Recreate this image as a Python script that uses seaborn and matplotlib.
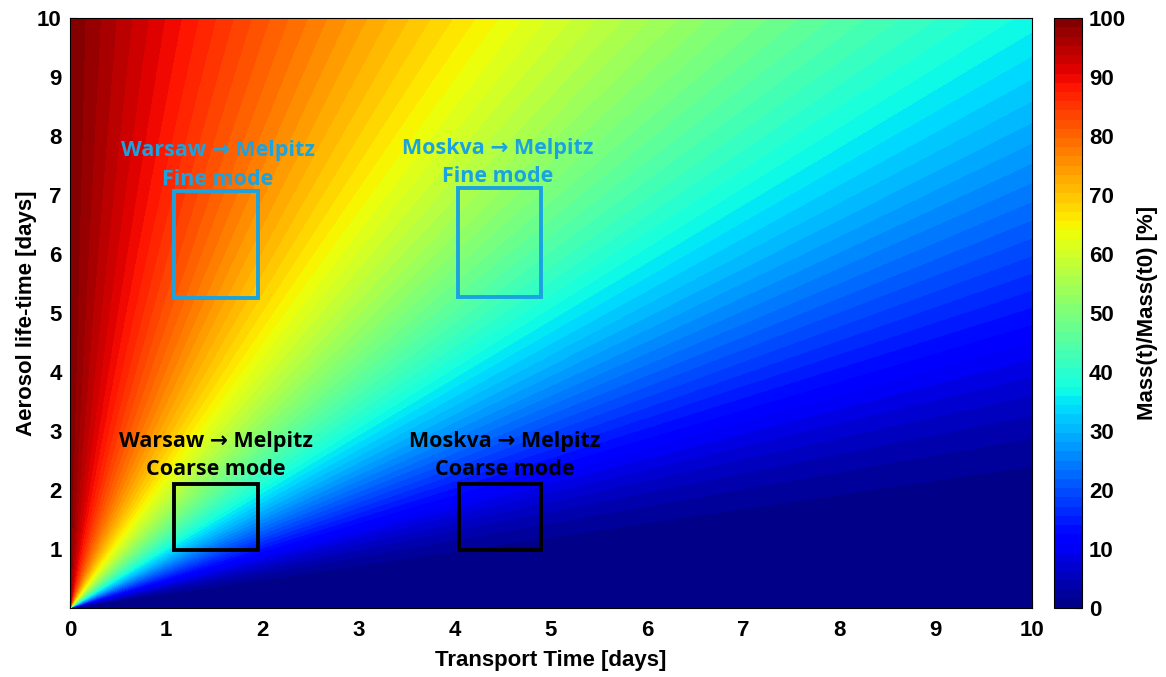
"""Remaining aerosol mass fraction vs transport time and aerosol life-time."""

import matplotlib
matplotlib.use("Agg")
import matplotlib.pyplot as plt
import numpy as np
import seaborn as sns
from matplotlib.patches import Rectangle

# Grid axes of the model surface (days)
transport_days = np.linspace(0.0, 10.0, 501)
lifetime_days = np.linspace(0.005, 10.0, 501)

# Source regions: (label, mode, x0, x1, y0, y1)
box_labels = ["Warsaw", "Moskva", "Warsaw", "Moskva"]
box_modes = ["Fine mode", "Fine mode", "Coarse mode", "Coarse mode"]
box_x0 = [1.08, 4.03, 1.08, 4.04]
box_x1 = [1.95, 4.90, 1.95, 4.90]
box_y0 = [5.25, 5.28, 0.98, 0.98]
box_y1 = [7.07, 7.12, 2.10, 2.10]
box_colors = ["#1aa3e0", "#1aa3e0", "black", "black"]
text_x = [1.54, 4.45, 1.52, 4.52]
text_y1 = [7.75, 7.80, 2.82, 2.82]
text_y2 = [7.26, 7.31, 2.34, 2.34]

sns.set_style("ticks")
plt.rcParams["font.family"] = ["Liberation Sans", "DejaVu Sans"]
plt.rcParams["font.weight"] = "bold"
plt.rcParams["text.color"] = "black"
plt.rcParams["axes.labelcolor"] = "black"
plt.rcParams["xtick.color"] = "black"
plt.rcParams["ytick.color"] = "black"

T, TAU = np.meshgrid(transport_days, lifetime_days)
mass_pct = 100.0 * np.exp(-T / TAU)

fig = plt.figure(figsize=(11.66, 6.77), dpi=100)
ax = fig.add_axes([0.060, 0.102, 0.825, 0.871])
cax = fig.add_axes([0.904, 0.102, 0.024, 0.871])

levels = np.linspace(0, 100, 65)
cf = ax.contourf(T, TAU, mass_pct, levels=levels, cmap="jet", vmin=0, vmax=100)

for lab, mode, x0, x1, y0, y1, c, tx, ty1, ty2 in zip(
        box_labels, box_modes, box_x0, box_x1, box_y0, box_y1,
        box_colors, text_x, text_y1, text_y2):
    ax.add_patch(Rectangle((x0, y0), x1 - x0, y1 - y0, fill=False,
                           edgecolor=c, linewidth=2.8, zorder=3))
    ax.text(tx, ty1, f"{lab} \u2192 Melpitz", color=c, ha="center", va="center",
            fontsize=15.5, fontweight="bold", family=["Open Sans", "DejaVu Sans"])
    ax.text(tx, ty2, mode, color=c, ha="center", va="center",
            fontsize=15.5, fontweight="bold", family=["Open Sans", "DejaVu Sans"])

ax.set_xlim(0, 10)
ax.set_ylim(0, 10)
ax.set_xticks(range(0, 11))
ax.set_yticks(range(1, 11))
ax.tick_params(labelsize=16, direction="in", length=5)
ax.tick_params(axis="x", pad=9)
ax.tick_params(axis="y", pad=6)
ax.set_xlabel("Transport Time [days]", fontsize=16, fontweight="bold", labelpad=6)
ax.set_ylabel("Aerosol life-time [days]", fontsize=16, fontweight="bold", labelpad=0)
for s in ax.spines.values():
    s.set_visible(True)
    s.set_linewidth(0.8)
    s.set_color("black")

cb = fig.colorbar(cf, cax=cax, ticks=range(0, 101, 10))
cb.ax.tick_params(labelsize=16, direction="in", length=5, pad=5)
cb.set_label("Mass(t)/Mass(t0) [%]", fontsize=16, fontweight="bold", labelpad=8)
cb.outline.set_linewidth(0.8)
cb.outline.set_edgecolor("black")

fig.savefig("out.png", dpi=100)
plt.close(fig)
